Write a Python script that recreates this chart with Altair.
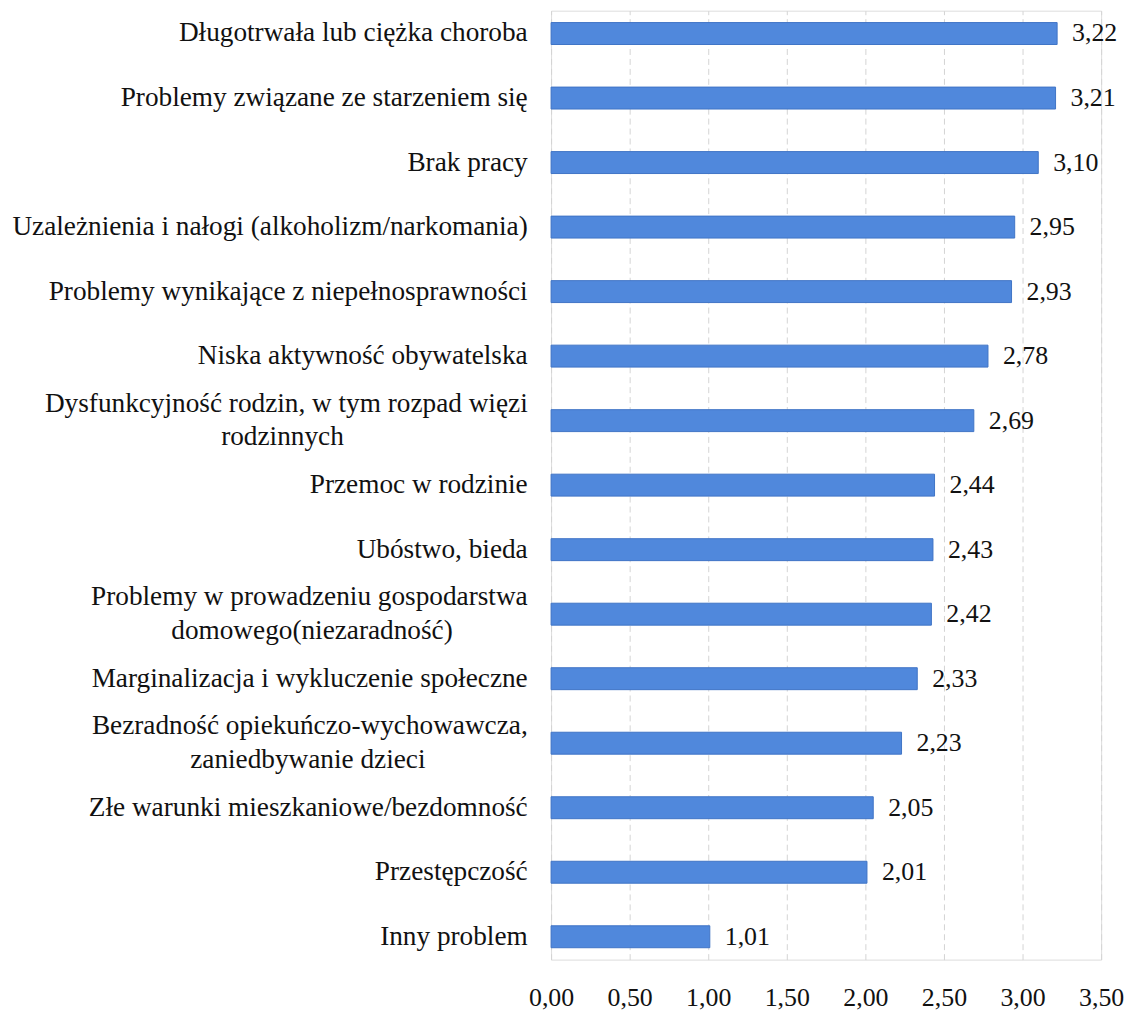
import altair as alt
import pandas as pd

categories = [
    "Długotrwała lub ciężka choroba",
    "Problemy związane ze starzeniem się",
    "Brak pracy",
    "Uzależnienia i nałogi (alkoholizm/narkomania)",
    "Problemy wynikające z niepełnosprawności",
    "Niska aktywność obywatelska",
    "Dysfunkcyjność rodzin, w tym rozpad więzi|rodzinnych",
    "Przemoc w rodzinie",
    "Ubóstwo, bieda",
    "Problemy w prowadzeniu gospodarstwa|domowego(niezaradność)",
    "Marginalizacja i wykluczenie społeczne",
    "Bezradność opiekuńczo-wychowawcza,|zaniedbywanie dzieci",
    "Złe warunki mieszkaniowe/bezdomność",
    "Przestępczość",
    "Inny problem",
]
values = [3.22, 3.21, 3.10, 2.95, 2.93, 2.78, 2.69, 2.44, 2.43, 2.42, 2.33, 2.23, 2.05, 2.01, 1.01]
x_ticks = [0, 0.5, 1.0, 1.5, 2.0, 2.5, 3.0, 3.5]

df = pd.DataFrame({"cat": categories, "val": values})

FONT = "Liberation Serif"
BAR = "#5088dc"
NB = "\u00a0"
ZW = "\u200b"  # zero-width char so the trailing padding is not trimmed

# trailing non-breaking spaces so the second line sits centred under the first
second_line_pad = {
    "Dysfunkcyjność rodzin, w tym rozpad więzi|rodzinnych": 27,
    "Problemy w prowadzeniu gospodarstwa|domowego(niezaradność)": 11,
    "Bezradność opiekuńczo-wychowawcza,|zaniedbywanie dzieci": 15,
}
label_expr = "datum.label"
for full, n in second_line_pad.items():
    l1, l2 = full.split("|")
    label_expr = f"(datum.label == '{full}' ? ['{l1}', '{l2}{NB * n}{ZW}'] : {label_expr})"

y_enc = alt.Y(
    "cat:N",
    sort=categories,
    title=None,
    scale=alt.Scale(paddingInner=0.66, paddingOuter=0.184),
    axis=alt.Axis(
        domain=False,
        ticks=False,
        labelFont=FONT,
        labelFontSize=27.4,
        labelColor="#111111",
        labelPadding=24,
        labelLimit=0,
        labelExpr=label_expr,
        labelLineHeight=34,
        labelOffset={
            "condition": {"test": "indexof(datum.value, '|') >= 0", "value": -17},
            "value": 0,
        },
    ),
)

x_enc = alt.X(
    "val:Q",
    title=None,
    scale=alt.Scale(domain=[0, 3.5], nice=False),
    axis=alt.Axis(
        values=x_ticks,
        domain=False,
        ticks=False,
        grid=True,
        gridColor="#d4d4d4",
        gridDash=[6, 4],
        gridWidth=1,
        labelFont=FONT,
        labelFontSize=26,
        labelColor="#111111",
        labelPadding=25,
        labelExpr="replace(format(datum.value, '.2f'), '.', ',')",
        labelFlush=False,
    ),
)

base = alt.Chart(df)

bars = base.mark_bar(color=BAR, stroke="#3f74c6", strokeWidth=1).encode(x=x_enc, y=y_enc)

text = base.transform_calculate(
    lbl="replace(format(datum.val, '.2f'), '.', ',')"
).mark_text(
    align="left", baseline="middle", dx=15, font=FONT, fontSize=26, color="#111111"
).encode(
    x=alt.X("val:Q"),
    y=alt.Y("cat:N", sort=categories),
    text="lbl:N",
)

chart = (
    alt.layer(bars, text)
    .properties(
        width=553,
        height=954,
        autosize=alt.AutoSizeParams(type="none"),
        padding={"left": 546, "top": 0, "right": 23, "bottom": 56},
    )
    .configure_view(stroke=None)
    .configure(background="white")
)

chart.save("out.html", embed_options={"renderer": "svg", "actions": False})
